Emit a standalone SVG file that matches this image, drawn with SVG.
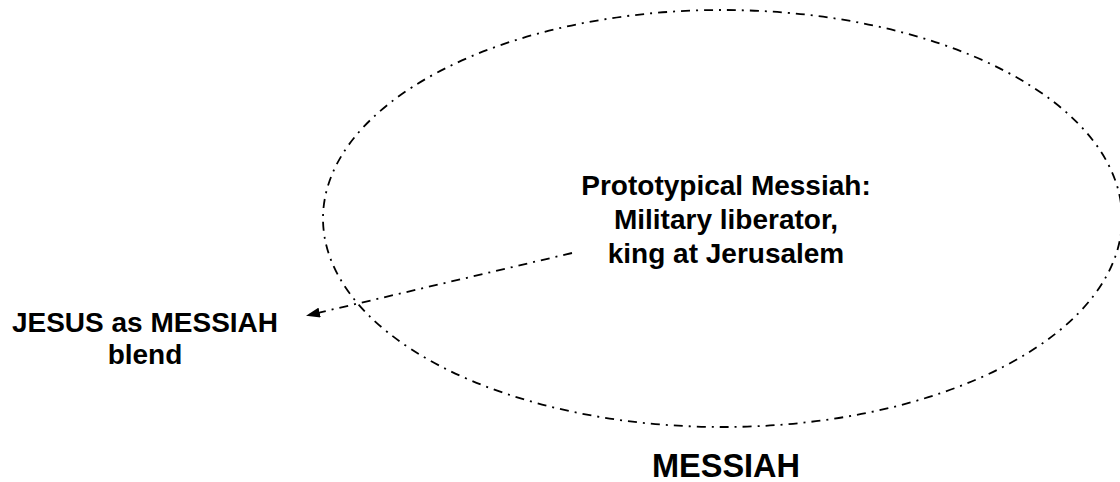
<svg xmlns="http://www.w3.org/2000/svg" width="1120" height="482" viewBox="0 0 1120 482">
<style>
.t{font-family:"Liberation Sans",Arial,sans-serif;font-weight:bold;fill:#000;text-anchor:middle}
.dd{fill:none;stroke:#000;stroke-width:1.8;stroke-dasharray:9 6 2 6}
</style>
<defs>
<marker id="ah" viewBox="0 0 14 10" refX="13" refY="5" markerWidth="14" markerHeight="10" markerUnits="userSpaceOnUse" orient="auto">
<path d="M0,0 L14,5 L0,10 Z" fill="#000"/>
</marker>
</defs>
<rect width="1120" height="482" fill="#fff"/>
<g id="messiah">
<ellipse class="dd" cx="722.5" cy="218.5" rx="399.5" ry="208.5"/>
<text class="t" x="726" y="195" font-size="28">Prototypical Messiah:</text>
<text class="t" x="726" y="229" font-size="28">Military liberator,</text>
<text class="t" x="726" y="263" font-size="28">king at Jerusalem</text>
<text class="t" x="726" y="477" font-size="32.5">MESSIAH</text>
</g>
<g id="blend">
<text class="t" x="145" y="332" font-size="28">JESUS as MESSIAH</text>
<text class="t" x="145" y="364" font-size="28">blend</text>
</g>
<g id="connectors">
<line class="dd" x1="572" y1="253" x2="307" y2="315.5" marker-end="url(#ah)"/>
</g>
</svg>
